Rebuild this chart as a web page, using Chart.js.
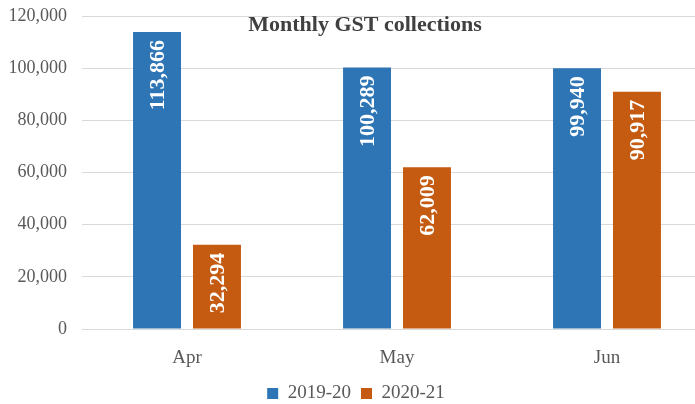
<!DOCTYPE html>
<html>
<head>
<meta charset="utf-8">
<script src="https://cdn.jsdelivr.net/npm/chart.js@4"></script>
<style>
    html, body { margin: 0; padding: 0; background: #fff; overflow: hidden; }
    #wrap { width: 730px; height: 404px; }
</style>
</head>
<body>
<div id="wrap"><canvas id="gst" width="730" height="404"></canvas></div>
<script>
// chart data
const months = ['Apr', 'May', 'Jun'];
const seriesNames = ['2019-20', '2020-21'];
const collections2019 = [113866, 100289, 99940];
const collections2020 = [32294, 62009, 90917];
const yMax = 120000;
const yStep = 20000;

const serif = '"Liberation Serif", "Times New Roman", serif';
const blue = '#2E75B6';
const orange = '#C55A11';

// title drawn inside the plot area, like the original
const titlePlugin = {
    id: 'innerTitle',
    afterDraw: function (chart) {
        const ctx = chart.ctx;
        ctx.save();
        ctx.font = 'bold 22px ' + serif;
        ctx.fillStyle = '#404040';
        ctx.textAlign = 'center';
        ctx.textBaseline = 'middle';
        ctx.fillText('Monthly GST collections', chart.width / 2, chart.chartArea.top + 9);
        ctx.restore();
    }
};

// vertical white value labels at the top of each bar
const valueLabels = {
    id: 'valueLabels',
    afterDatasetsDraw: function (chart) {
        const ctx = chart.ctx;
        ctx.save();
        ctx.font = 'bold 22px ' + serif;
        ctx.fillStyle = '#ffffff';
        ctx.textAlign = 'right';
        ctx.textBaseline = 'middle';
        chart.data.datasets.forEach(function (ds, i) {
            chart.getDatasetMeta(i).data.forEach(function (bar, j) {
                ctx.save();
                ctx.translate(bar.x, bar.y + 8);
                ctx.rotate(-Math.PI / 2);
                ctx.fillText(ds.data[j].toLocaleString('en-US'), 0, 1);
                ctx.restore();
            });
        });
        ctx.restore();
    }
};

new Chart(document.getElementById('gst'), {
    type: 'bar',
    data: {
        labels: months,
        datasets: [
            {
                label: seriesNames[0],
                data: collections2019,
                backgroundColor: blue,
                categoryPercentage: 0.571,
                barPercentage: 0.8
            },
            {
                label: seriesNames[1],
                data: collections2020,
                backgroundColor: orange,
                categoryPercentage: 0.571,
                barPercentage: 0.8
            }
        ]
    },
    options: {
        responsive: false,
        animation: false,
        layout: {
            padding: { top: 16, right: 18, left: 0, bottom: -9 }
        },
        plugins: {
            title: { display: false },
            tooltip: { enabled: false },
            legend: {
                position: 'bottom',
                labels: {
                    boxWidth: 11,
                    boxHeight: 11,
                    padding: 10,
                    color: '#595959',
                    font: { family: serif, size: 19 }
                }
            }
        },
        scales: {
            x: {
                grid: { display: false, drawTicks: false },
                border: { display: false },
                ticks: {
                    color: '#595959',
                    padding: 18,
                    font: { family: serif, size: 19 }
                },
                afterFit: function (axis) {
                    axis.height = 45;
                }
            },
            y: {
                min: 0,
                max: yMax,
                grid: { color: '#d9d9d9', drawTicks: false },
                border: { display: false },
                ticks: {
                    stepSize: yStep,
                    color: '#595959',
                    padding: 15,
                    font: { family: serif, size: 18 },
                    callback: function (v) {
                        return v.toLocaleString('en-US');
                    }
                },
                afterFit: function (axis) {
                    axis.width = 82;
                    axis.paddingTop = 0;
                    axis.paddingBottom = 0;
                }
            }
        }
    },
    plugins: [titlePlugin, valueLabels]
});
</script>
</body>
</html>
